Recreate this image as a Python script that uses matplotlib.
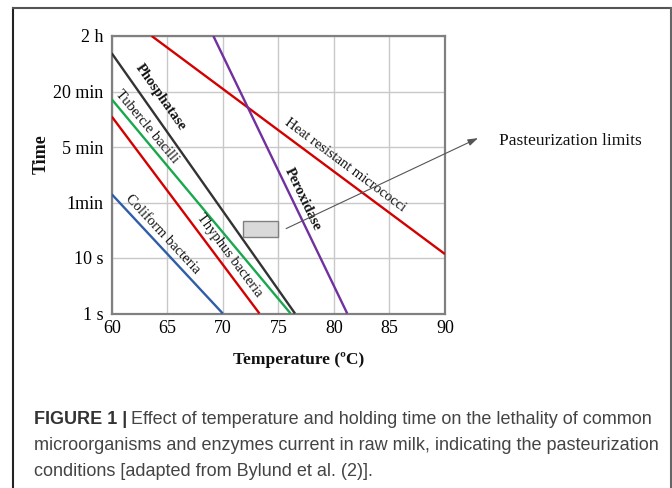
import matplotlib
matplotlib.use("Agg")
import matplotlib.pyplot as plt
from matplotlib.lines import Line2D
from matplotlib.patches import Rectangle
import numpy as np

# ---- data (temperature °C, time level index on the chart's equal-step time scale) ----
time_labels = ['1 s', '10 s', '1min', '5 min', '20 min', '2 h']
temp_ticks = [60, 65, 70, 75, 80, 85, 90]

coliform_T = [60.0, 70.0]
coliform_y = [2.15, 0.0]
thyphus_T = [60.0, 73.3]
thyphus_y = [3.55, 0.0]
tubercle_T = [60.0, 76.1]
tubercle_y = [3.86, 0.0]
phosphatase_T = [60.0, 76.5]
phosphatase_y = [4.69, 0.0]
micrococci_T = [63.6, 90.0]
micrococci_y = [5.0, 1.07]
peroxidase_T = [69.15, 81.2]
peroxidase_y = [5.0, 0.0]

past_T = [71.8, 75.0]
past_y = [1.37, 1.66]

serif = ['Liberation Serif', 'DejaVu Serif']
sans = ['Liberation Sans', 'DejaVu Sans']

W, H = 672, 488
fig = plt.figure(figsize=(W / 100, H / 100), dpi=100)
fig.patch.set_facecolor('white')

def fx(px):
    return px / W

def fy(py):
    return 1 - py / H

# outer frame
for (x0, y0, x1, y1), c in [((13, 8.3, 13, 490), '#222222'),
                            ((13, 8.3, 670.7, 8.3), '#555555'),
                            ((670.7, 8.3, 670.7, 490), '#666666')]:
    fig.add_artist(Line2D([fx(x0), fx(x1)], [fy(y0), fy(y1)], color=c, lw=1.5,
                          transform=fig.transFigure))

left, right, top, bottom = 111.7, 445.0, 36.0, 313.5
ax = fig.add_axes([fx(left), fy(bottom), fx(right) - fx(left), (bottom - top) / H])
ax.set_xlim(60, 90)
ax.set_ylim(0, 5)
ax.set_xticks(temp_ticks)
ax.set_xticklabels([str(t) for t in temp_ticks], fontfamily=serif, fontsize=13)
ax.set_yticks(range(len(time_labels)))
ax.set_yticklabels(time_labels, fontfamily=serif, fontsize=13)
ax.tick_params(length=0, pad=5)
ax.tick_params(axis='y', pad=6)
ax.grid(True, color='#c8c8c8', lw=1.0)
ax.set_axisbelow(True)
for s in ax.spines.values():
    s.set_color('#808080')
    s.set_linewidth(1.6)

lw = 1.7
series = [
    (coliform_T, coliform_y, '#2f5da8'),
    (thyphus_T, thyphus_y, '#d40000'),
    (tubercle_T, tubercle_y, '#19a84e'),
    (phosphatase_T, phosphatase_y, '#333333'),
    (micrococci_T, micrococci_y, '#d40000'),
    (peroxidase_T, peroxidase_y, '#7030a0'),
]
for T, y, c in series:
    ax.plot(T, y, color=c, lw=lw, solid_capstyle='butt', zorder=3)

ax.add_patch(Rectangle((past_T[0], past_y[0]), past_T[1] - past_T[0], past_y[1] - past_y[0],
                       facecolor='#d9d9d9', edgecolor='#808080', lw=1.0, zorder=3))

def angle_of(T, y):
    p = ax.transData.transform(np.column_stack([T, y]))
    d = p[1] - p[0]
    return np.degrees(np.arctan2(d[1], d[0]))

labels = [
    ('Phosphatase', 64.42, 3.89, phosphatase_T, phosphatase_y, 'bold'),
    ('Tubercle bacilli', 63.2, 3.37, tubercle_T, tubercle_y, 'normal'),
    ('Coliform bacteria', 64.55, 1.43, coliform_T, coliform_y, 'normal'),
    ('Thyphus bacteria', 70.6, 1.04, thyphus_T, thyphus_y, 'normal'),
    ('Heat resistant micrococci', 81.0, 2.68, micrococci_T, micrococci_y, 'normal'),
    ('Peroxidase', 77.2, 2.06, peroxidase_T, peroxidase_y, 'bold'),
]
for txt, tx, ty, T, y, wt in labels:
    ax.text(tx, ty, txt, rotation=angle_of(T, y), rotation_mode='anchor',
            ha='center', va='center', fontfamily=serif, fontsize=10.5,
            fontweight=wt, color='#111111', zorder=4)

# arrow to pasteurization label
ax.annotate('', xy=(92.97, 3.16), xytext=(75.7, 1.53),
            arrowprops=dict(arrowstyle='-|>,head_length=0.6,head_width=0.2',
                            color='#555555', lw=0.8, shrinkA=0, shrinkB=0),
            annotation_clip=False, zorder=5)

fig.text(fx(499), fy(141), 'Pasteurization limits', fontfamily=serif, fontsize=12.5,
         ha='left', va='center', color='#111111')

fig.text(fx(41), fy(154), 'Time', fontfamily=serif, fontsize=13, fontweight='bold',
         rotation=90, ha='center', va='center', color='#111111')
fig.text(fx(299), fy(360), 'Temperature (ºC)', fontfamily=serif, fontsize=12.5,
         fontweight='bold', ha='center', va='center', color='#111111')

# caption
cap_size = 13
renderer = fig.canvas.get_renderer()
t0 = fig.text(fx(34), fy(420), 'FIGURE 1 |', fontfamily=sans, fontsize=cap_size,
              fontweight='bold', ha='left', va='center', color='#333333')
bb = t0.get_window_extent(renderer=renderer)
fig.text(bb.x1 / W + fx(4), fy(420),
         'Effect of temperature and holding time on the lethality of common',
         fontfamily=sans, fontsize=cap_size, ha='left', va='center', color='#444444')
fig.text(fx(34), fy(446),
         'microorganisms and enzymes current in raw milk, indicating the pasteurization',
         fontfamily=sans, fontsize=cap_size, ha='left', va='center', color='#444444')
fig.text(fx(34), fy(471), 'conditions [adapted from Bylund et al. (2)].',
         fontfamily=sans, fontsize=cap_size, ha='left', va='center', color='#444444')

fig.savefig('out.png', dpi=100)
